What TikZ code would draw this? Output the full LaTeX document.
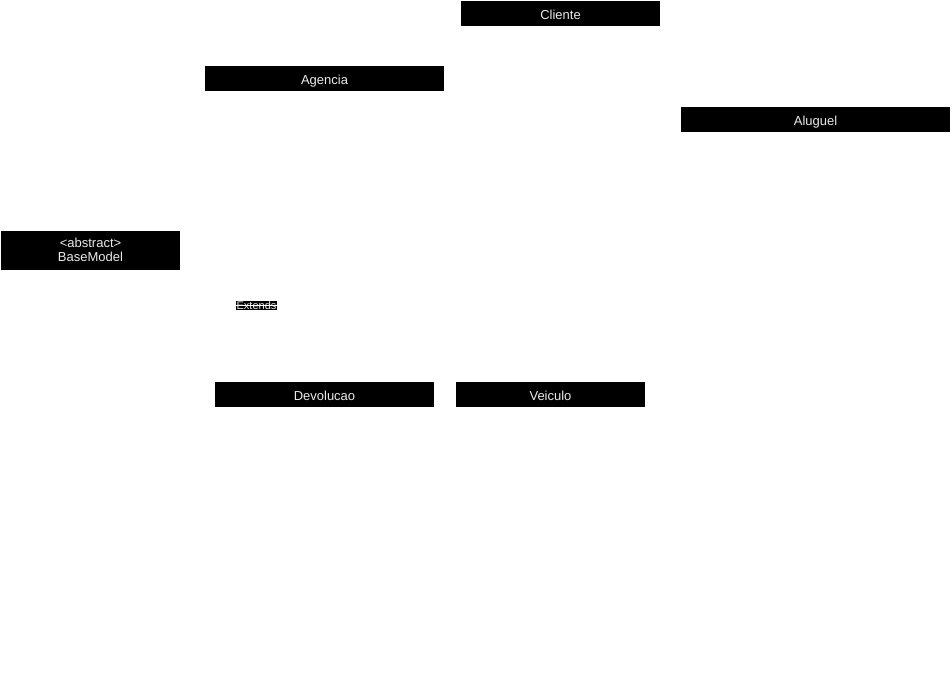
\documentclass[tikz,border=0pt]{standalone}
\usepackage{fontspec}
\setmainfont{Liberation Sans}
\begin{document}
\begin{tikzpicture}[x=0.75pt,y=-0.75pt,
  classbox/.style={fill=black,text=white!92!black,inner sep=0pt,
    font=\fontsize{9.75}{11}\selectfont,align=center},
  onerow/.style={text height=0.86em,text depth=0pt},
  edgelabel/.style={fill=black,text=white!92!black,inner sep=0.5pt,
    font=\fontsize{8.25}{9}\selectfont}]
  \useasboundingbox (0,0) rectangle (952,679);
  % class headers
  \node[classbox,onerow,minimum width=199*0.75pt,minimum height=25*0.75pt] (cliente) at (560.5,13.5) {Cliente};
  \node[classbox,onerow,minimum width=239*0.75pt,minimum height=25*0.75pt] (agencia) at (324.5,78.5) {Agencia};
  \node[classbox,onerow,minimum width=269*0.75pt,minimum height=25*0.75pt] (aluguel) at (815.5,119.5) {Aluguel};
  \node[classbox,minimum width=179*0.75pt,minimum height=39*0.75pt] (basemodel) at (90.5,250) {<abstract>\\BaseModel};
  \node[classbox,onerow,minimum width=219*0.75pt,minimum height=25*0.75pt] (devolucao) at (324.5,394.5) {Devolucao};
  \node[classbox,onerow,minimum width=189*0.75pt,minimum height=25*0.75pt] (veiculo) at (550.5,394.5) {Veiculo};
  % inheritance label with its connector crossing it
  \node[edgelabel] (extends) at (256.5,305.5) {Extends};
  \draw[white,line width=0.75pt] (extends.west) -- (extends.east);
\end{tikzpicture}
\end{document}
